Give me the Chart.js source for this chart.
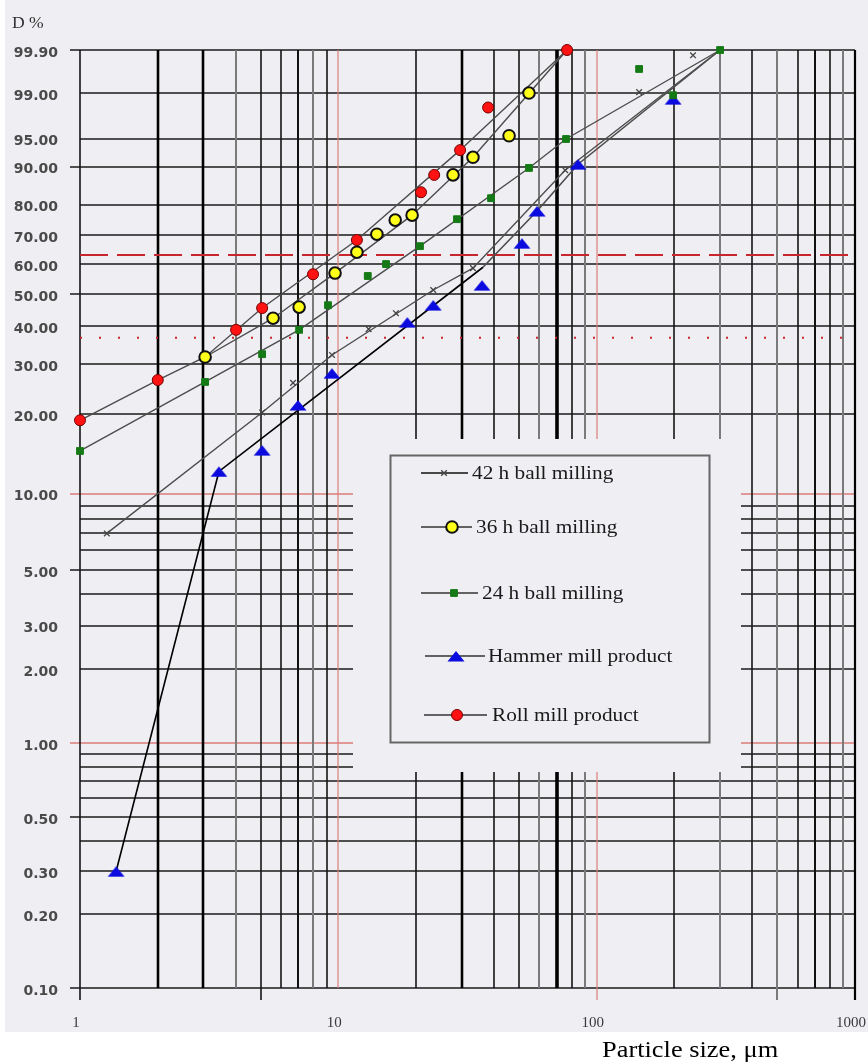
<!DOCTYPE html>
<html>
<head>
<meta charset="utf-8">
<script src="https://cdn.jsdelivr.net/npm/chart.js@4"></script>
<style>
  body { margin: 0; background: #fff; }
  canvas { display: block; }
</style>
</head>
<body>
<canvas id="psd" width="868" height="1063"></canvas>
<script>
// particle size (um) vs cumulative D %
var seriesNames = ['42 h ball milling', '36 h ball milling', '24 h ball milling', 'Hammer mill product', 'Roll mill product'];

var ball42Points = [[1.27, 7.0], [5.07, 20.3], [6.68, 25.9], [9.45, 32.3], [13.1, 39.2], [16.7, 43.9],
                    [23.3, 51.3], [33.2, 58.7], [75.5, 89.2], [146, 99.04], [236, 99.86]];
var ball42Line = [[1.27, 7.0], [5.07, 20.3], [9.45, 32.3], [23.3, 51.3], [33.2, 58.7], [75.5, 89.2], [300.5, 99.9]];

var ball36Points = [[3.05, 31.8], [5.59, 42.4], [7.05, 45.8], [9.71, 57.0], [11.8, 64.2], [14.1, 70.4],
                    [16.6, 75.1], [19.3, 76.7], [27.8, 88.1], [33.2, 91.9], [45.8, 95.4], [54.7, 99.0]];
var ball36Line = [[3.05, 31.8], [5.59, 42.4], [9.71, 57.0], [19.3, 76.7], [33.2, 91.9], [76.8, 99.9]];

var ball24Points = [[1, 14.6], [3.05, 26.1], [5.07, 32.5], [7.05, 39.0], [9.12, 46.4], [13.0, 56.0],
                    [15.3, 60.1], [20.7, 66.3], [28.8, 75.4], [39.0, 81.9], [54.7, 89.7], [76.1, 94.95],
                    [146, 99.69], [197.7, 98.9], [300.5, 99.9]];
var ball24Line = [[1, 14.6], [3.05, 26.1], [7.05, 39.0], [20.7, 66.3], [54.7, 89.7], [76.1, 94.95], [300.5, 99.9]];

var hammerPoints = [[1.38, 0.30], [3.45, 12.2], [5.07, 14.7], [6.98, 21.6], [9.45, 28.0], [18.5, 41.2],
                    [23.3, 46.4], [36.0, 52.9], [51.4, 67.3], [58.8, 78.0], [84.7, 90.5], [197.7, 98.7]];
var hammerLine = [[1.38, 0.30], [3.45, 12.2], [36.3, 59.0], [58.8, 78.0], [84.7, 90.5], [300.5, 99.9]];

var rollPoints = [[1, 19.0], [2.0, 26.5], [4.02, 39.0], [5.07, 45.5], [7.98, 56.6], [11.8, 68.4],
                  [20.9, 83.6], [23.5, 88.1], [29.6, 93.2], [38.0, 98.2], [76.8, 99.9]];
var rollLine = [[1, 19.0], [2.0, 26.5], [3.05, 31.8], [5.07, 45.5], [11.8, 68.4], [29.6, 93.2], [76.8, 99.9]];

var yTickLabels = [0.1, 0.2, 0.3, 0.5, 1, 2, 3, 5, 10, 20, 30, 40, 50, 60, 70, 80, 90, 95, 99, 99.9];
var yGridValues = [0.1, 0.2, 0.3, 0.4, 0.5, 0.6, 0.7, 0.8, 0.9, 1, 2, 3, 4, 5, 6, 7, 8, 9, 10,
                   20, 30, 40, 50, 60, 70, 80, 90, 95, 99, 99.9];
var xTickLabels = [1, 10, 100, 1000];
var charLines = [63.21, 36.79]; // characteristic size lines

var PAPER = '#efeef2';

// Rosin-Rammler ordinate
function rr(d) { return Math.log10(-Math.log(1 - d / 100)); }
function toXY(arr) { return arr.map(function (p) { return {x: p[0], y: rr(p[1])}; }); }

// flat blue triangle like the original marker
var tri = document.createElement('canvas');
tri.width = 18; tri.height = 12;
(function () {
    var t = tri.getContext('2d');
    t.fillStyle = '#0b0be0';
    t.beginPath(); t.moveTo(0.5, 11.5); t.lineTo(17.5, 11.5); t.lineTo(9, 1); t.closePath(); t.fill();
})();

var markerStyles = [
    {pointStyle: 'crossRot', pointRadius: 4, borderColor: '#444', backgroundColor: '#444', borderWidth: 1.3},
    {pointStyle: 'circle', pointRadius: 5.8, borderColor: '#111', backgroundColor: '#ffff1a', borderWidth: 2},
    {pointStyle: 'rect', pointRadius: 4.8, borderColor: '#157a15', backgroundColor: '#157a15', borderWidth: 1},
    {pointStyle: tri, pointRadius: 8, borderColor: '#0b0be0', backgroundColor: '#0b0be0', borderWidth: 0},
    {pointStyle: 'circle', pointRadius: 5.5, borderColor: '#700', backgroundColor: '#ff1212', borderWidth: 1}
];
var pointSets = [ball42Points, ball36Points, ball24Points, hammerPoints, rollPoints];
var lineSets = [ball42Line, ball36Line, ball24Line, hammerLine, rollLine];

var datasets = [];
pointSets.forEach(function (pts, i) {
    var s = markerStyles[i];
    datasets.push({
        label: seriesNames[i], data: toXY(pts), showLine: false, clip: false,
        pointStyle: s.pointStyle, pointRadius: s.pointRadius, borderColor: s.borderColor,
        backgroundColor: s.backgroundColor, borderWidth: s.borderWidth
    });
});
lineSets.forEach(function (pts, i) {
    var ds = {
        label: seriesNames[i] + ' line', data: toXY(pts), showLine: true, clip: false,
        pointRadius: 0, borderColor: '#4d4d4d', borderWidth: 1.4, tension: 0
    };
    if (i == 3) {
        ds.borderWidth = 1.6;
        ds.segment = {borderColor: function (c) { return c.p1DataIndex <= 2 ? '#000' : '#4d4d4d'; }};
    }
    datasets.push(ds);
});

function vStyle(v) {
    var m = Math.round(v / Math.pow(10, Math.floor(Math.log10(v) + 1e-9)));
    if (v == 10 || v == 100) return ['#dc7c78', 1.2];
    if (v == 1000) return ['#000', 2.2];
    if (v == 70) return ['#000', 3.6];
    if (v == 2 || v == 3 || v == 30) return ['#000', 2.6];
    if (v == 4 || v == 8 || v == 60 || v == 90 || v == 300 || v == 500 || v == 900) return ['#7a7a7a', 2];
    if (m == 7) return ['#111', 2];
    return ['#151515', 1.6];
}

// text drawn a little wider, the scan is stretched sideways
function wideText(ctx, txt, x, y, sx) {
    ctx.save();
    ctx.translate(x, y);
    ctx.scale(sx, 1);
    ctx.fillText(txt, 0, 0);
    ctx.restore();
}

var paperGrid = {
    id: 'paperGrid',
    beforeDraw: function (chart) {
        var ctx = chart.ctx;
        ctx.save();
        ctx.fillStyle = '#fff';
        ctx.fillRect(0, 0, chart.width, chart.height);
        ctx.fillStyle = PAPER;
        ctx.fillRect(5, 0, chart.width - 5, 1032);
        ctx.restore();
    },
    beforeDatasetsDraw: function (chart) {
        var ctx = chart.ctx, a = chart.chartArea, xs = chart.scales.x, ys = chart.scales.y;
        ctx.save();
        // horizontal lines
        var longer = [0.1, 0.5, 1, 5, 10, 50, 90, 99.9];
        yGridValues.forEach(function (d) {
            var y = Math.round(ys.getPixelForValue(rr(d)));
            var red = (d == 1 || d == 10);
            ctx.strokeStyle = red ? '#dc7c78' : '#1a1a1a';
            ctx.lineWidth = 1.6;
            ctx.beginPath();
            ctx.moveTo(longer.indexOf(d) >= 0 ? a.left - 10 : a.left, y);
            ctx.lineTo(a.right, y);
            ctx.stroke();
        });
        // vertical lines
        var xv = [];
        [1, 10, 100].forEach(function (dec) {
            for (var k = 1; k <= 9; k++) xv.push(dec * k);
        });
        xv.push(1000);
        xv.forEach(function (v) {
            var x = Math.round(xs.getPixelForValue(v));
            var st = vStyle(v);
            var down = [1, 5, 100, 500, 1000].indexOf(v) >= 0 ? 12 : 0;
            ctx.strokeStyle = st[0];
            ctx.lineWidth = st[1];
            ctx.beginPath();
            ctx.moveTo(x, a.top);
            ctx.lineTo(x, a.bottom + down);
            ctx.stroke();
        });
        // characteristic lines
        ctx.strokeStyle = '#c8262c';
        ctx.lineWidth = 2;
        var yd = ys.getPixelForValue(rr(charLines[0]));
        ctx.setLineDash([28, 9]);
        ctx.beginPath(); ctx.moveTo(a.left, yd); ctx.lineTo(a.right, yd); ctx.stroke();
        var yo = ys.getPixelForValue(rr(charLines[1]));
        ctx.setLineDash([2, 17]);
        ctx.beginPath(); ctx.moveTo(a.left, yo); ctx.lineTo(a.right, yo); ctx.stroke();
        ctx.setLineDash([]);

        // legend box clears the grid
        ctx.fillStyle = PAPER;
        ctx.fillRect(353, 439, 388, 333);
        ctx.strokeStyle = '#666';
        ctx.lineWidth = 2;
        ctx.strokeRect(390.5, 455.5, 319, 287);

        // tick labels
        ctx.fillStyle = '#4a4a4a';
        ctx.font = 'bold 14px "DejaVu Sans"';
        ctx.textAlign = 'right';
        ctx.textBaseline = 'middle';
        yTickLabels.forEach(function (d) {
            var y = ys.getPixelForValue(rr(d));
            ctx.fillText(d.toFixed(2), 58, y + 3);
        });
        ctx.fillStyle = '#3a3a3a';
        ctx.font = '15px "Liberation Serif"';
        ctx.textAlign = 'center';
        xTickLabels.forEach(function (v) {
            var x = xs.getPixelForValue(v);
            ctx.fillText(String(v), Math.min(x - 4, chart.width - 16), 1023);
        });
        ctx.textAlign = 'left';
        ctx.fillStyle = '#333';
        ctx.font = '16px "Liberation Serif"';
        wideText(ctx, 'D %', 12, 24, 1.1);
        ctx.fillStyle = '#000';
        ctx.font = '24px "Liberation Serif"';
        ctx.textBaseline = 'alphabetic';
        wideText(ctx, 'Particle size, \u03bcm', 602, 1057, 1.1);
        ctx.restore();
    },
    afterDatasetsDraw: function (chart) {
        var ctx = chart.ctx;
        var rows = [[421, 468, 444, 473, 472], [421, 472, 452, 527, 476], [421, 478, 454, 593, 482],
                    [425, 485, 456, 656, 488], [424, 487, 457, 715, 492]];
        ctx.save();
        rows.forEach(function (r, i) {
            var s = markerStyles[i];
            ctx.strokeStyle = i == 0 ? '#111' : '#333';
            ctx.lineWidth = 1.4;
            ctx.beginPath(); ctx.moveTo(r[0], r[3]); ctx.lineTo(r[1], r[3]); ctx.stroke();
            ctx.fillStyle = s.backgroundColor;
            ctx.strokeStyle = s.borderColor;
            ctx.lineWidth = s.borderWidth;
            Chart.helpers.drawPoint(ctx, {pointStyle: s.pointStyle, radius: s.pointRadius, rotation: 0,
                                          borderWidth: s.borderWidth}, r[2], r[3]);
            ctx.fillStyle = '#1a1a1a';
            ctx.font = '19px "Liberation Serif"';
            ctx.textAlign = 'left';
            ctx.textBaseline = 'middle';
            wideText(ctx, seriesNames[i], r[4], r[3] + 1, 1.12);
        });
        ctx.restore();
    }
};

new Chart(document.getElementById('psd'), {
    type: 'scatter',
    data: {datasets: datasets},
    options: {
        responsive: false,
        animation: false,
        layout: {padding: {left: 80, right: 13, top: 50, bottom: 75}},
        scales: {
            x: {type: 'logarithmic', min: 1, max: 1000, display: false},
            y: {type: 'linear', min: rr(0.1), max: rr(99.9), display: false}
        },
        plugins: {legend: {display: false}, tooltip: {enabled: false}}
    },
    plugins: [paperGrid]
});
</script>
</body>
</html>
